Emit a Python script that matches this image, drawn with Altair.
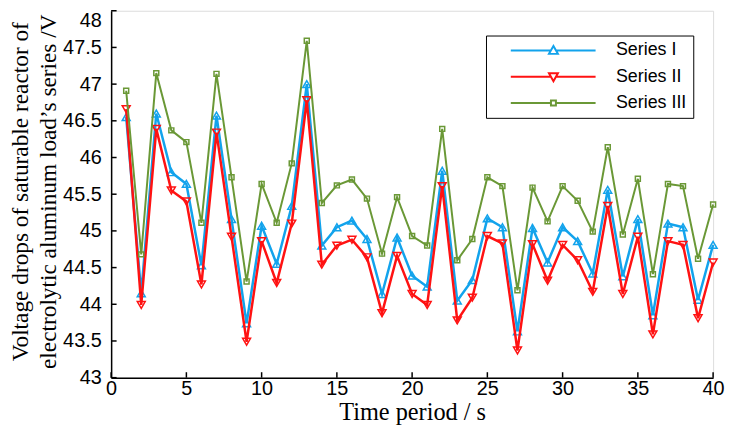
import altair as alt
import pandas as pd

time = list(range(1, 41))
series_i = [46.55, 44.15, 46.60, 45.80, 45.64, 44.53, 46.57, 45.16, 43.74, 45.07,
            44.55, 45.34, 47.00, 44.80, 45.05, 45.14, 44.89, 44.14, 44.91, 44.39,
            44.24, 45.82, 44.05, 44.33, 45.17, 45.05, 43.63, 45.04, 44.57, 45.05,
            44.86, 44.42, 45.56, 44.38, 45.16, 43.85, 45.10, 45.05, 44.06, 44.81]
series_ii = [46.66, 43.99, 46.39, 45.55, 45.40, 44.27, 46.34, 44.92, 43.49, 44.86,
             44.29, 45.10, 46.78, 44.54, 44.80, 44.88, 44.64, 43.88, 44.66, 44.14,
             43.99, 45.61, 43.78, 44.09, 44.93, 44.83, 43.37, 44.82, 44.32, 44.81,
             44.60, 44.17, 45.34, 44.14, 44.92, 43.59, 44.86, 44.81, 43.81, 44.57]
series_iii = [46.91, 44.68, 47.15, 46.37, 46.21, 45.11, 47.14, 45.73, 44.31, 45.64,
              45.11, 45.92, 47.59, 45.38, 45.62, 45.70, 45.44, 44.69, 45.46, 44.93,
              44.80, 46.39, 44.60, 44.89, 45.73, 45.61, 44.19, 45.59, 45.13, 45.61,
              45.41, 44.99, 46.14, 44.95, 45.71, 44.41, 45.64, 45.61, 44.62, 45.36]

names = ["Series I", "Series II", "Series III"]
colors = ["#12a3ec", "#ff1212", "#6a9836"]
line_widths = [2.5, 2.5, 2.0]
marker_shapes = ["triangle-up", "triangle-down", "square"]
marker_sizes = [64, 64, 25]
legend_paths = [
    "M2,0H10.1M11.1,0H19.1M10.6,-0.9L11.5,0.7L9.7,0.7Z",
    "M2,0H10.1M11.1,0H19.1M10.6,0.9L11.5,-0.7L9.7,-0.7Z",
    "M2,0H10.1M11.1,0H19.1M10.1,-0.5H11.1V0.5H10.1Z",
]
x_ticks = [0, 5, 10, 15, 20, 25, 30, 35, 40]
y_ticks = [43, 43.5, 44, 44.5, 45, 45.5, 46, 46.5, 47, 47.5, 48]

W, H = 607, 370

rows = []
for name, vals in zip(names, [series_i, series_ii, series_iii]):
    for t, v in zip(time, vals):
        rows.append({"time": t, "value": v, "series": name})
df = pd.DataFrame(rows)

x_scale = alt.Scale(domain=[0, 40], nice=False, zero=False)
y_scale = alt.Scale(domain=[43, 48], nice=False, zero=False)
color_scale = alt.Scale(domain=names, range=colors)

x_axis = alt.Axis(values=x_ticks, tickSize=0, labelPadding=17, labelBaseline="alphabetic",
                  labelFlush=False, labelOverlap=False,
                  labelFont="Liberation Sans", labelFontSize=20, labelColor="black",
                  domainColor="black", domainWidth=1.5, grid=False,
                  title="Time period / s", titleFont="Liberation Serif", titleFontSize=24.5,
                  titleFontWeight="normal", titleColor="black", titleBaseline="alphabetic",
                  titleY=42, titleX=W / 2)
y_axis = alt.Axis(values=y_ticks, tickSize=0, labelPadding=10, format="~g",
                  labelFlush=False, labelOverlap=False,
                  labelBaseline={"condition": {"test": "datum.value == 48", "value": "top"},
                                 "value": "middle"},
                  labelFont="Liberation Sans", labelFontSize=20, labelColor="black",
                  domainColor="black", domainWidth=1.5, grid=False,
                  title=["Voltage drops of saturable reactor of",
                         "electrolytic aluminum load’s series /V"],
                  titleFont="Liberation Serif", titleFontSize=23.5, titleFontWeight="normal",
                  titleColor="black", titleAngle=-90, titleBaseline="middle",
                  titleAlign="center", titleLineHeight=28, titleX=-91, titleY=182)

x_enc = alt.X("time:Q", scale=x_scale, axis=x_axis)
y_enc = alt.Y("value:Q", scale=y_scale, axis=y_axis)

base = alt.Chart(df)
layers = []
for i, name in enumerate(names):
    sub = base.transform_filter(alt.datum.series == name)
    layers.append(
        sub.mark_line(strokeWidth=line_widths[i], color=colors[i]).encode(x=x_enc, y=y_enc)
    )
    layers.append(
        sub.mark_point(shape=marker_shapes[i], size=marker_sizes[i], filled=False,
                       strokeWidth=1.5, color=colors[i], opacity=1).encode(x=x_enc, y=y_enc)
    )

legend_opts = dict(
    title=None, orient="none", legendX=378, legendY=25,
    symbolSize=100, symbolStrokeWidth=2, symbolFillColor="white",
    labelFont="Liberation Sans", labelFontSize=18, labelColor="black",
    labelOffset=107, rowPadding=8.5, padding=6,
    labelExpr="datum.label + '\u00a0\u00a0'",
    strokeColor="black", fillColor="white")

legend = base.transform_filter("false").mark_point(filled=False, strokeWidth=2, opacity=1).encode(
    x=x_enc,
    y=y_enc,
    color=alt.Color("series:N", scale=color_scale, legend=alt.Legend(**legend_opts)),
    shape=alt.Shape("series:N", scale=alt.Scale(domain=names, range=legend_paths),
                    legend=alt.Legend(**legend_opts)),
)

xt = pd.DataFrame({"time": x_ticks})
yt = pd.DataFrame({"value": y_ticks})
x_tick_marks = alt.Chart(xt).mark_rule(color="black", strokeWidth=1.5).encode(
    x=x_enc, y=alt.value(H), y2=alt.value(H - 5.5))
y_tick_marks = alt.Chart(yt).mark_rule(color="black", strokeWidth=1.5).encode(
    y=y_enc, x=alt.value(0), x2=alt.value(5.5))

chart = alt.layer(*layers, x_tick_marks, y_tick_marks, legend).properties(
    width=W, height=H,
    autosize=alt.AutoSizeParams(type="none"),
    padding={"left": 104, "top": 1, "right": 12, "bottom": 50},
).configure_view(stroke=None).configure_axis(
    labelOverlap=False, labelFlush=False
).configure(background="white")

chart.save("out.html", embed_options={"renderer": "svg", "actions": False})
